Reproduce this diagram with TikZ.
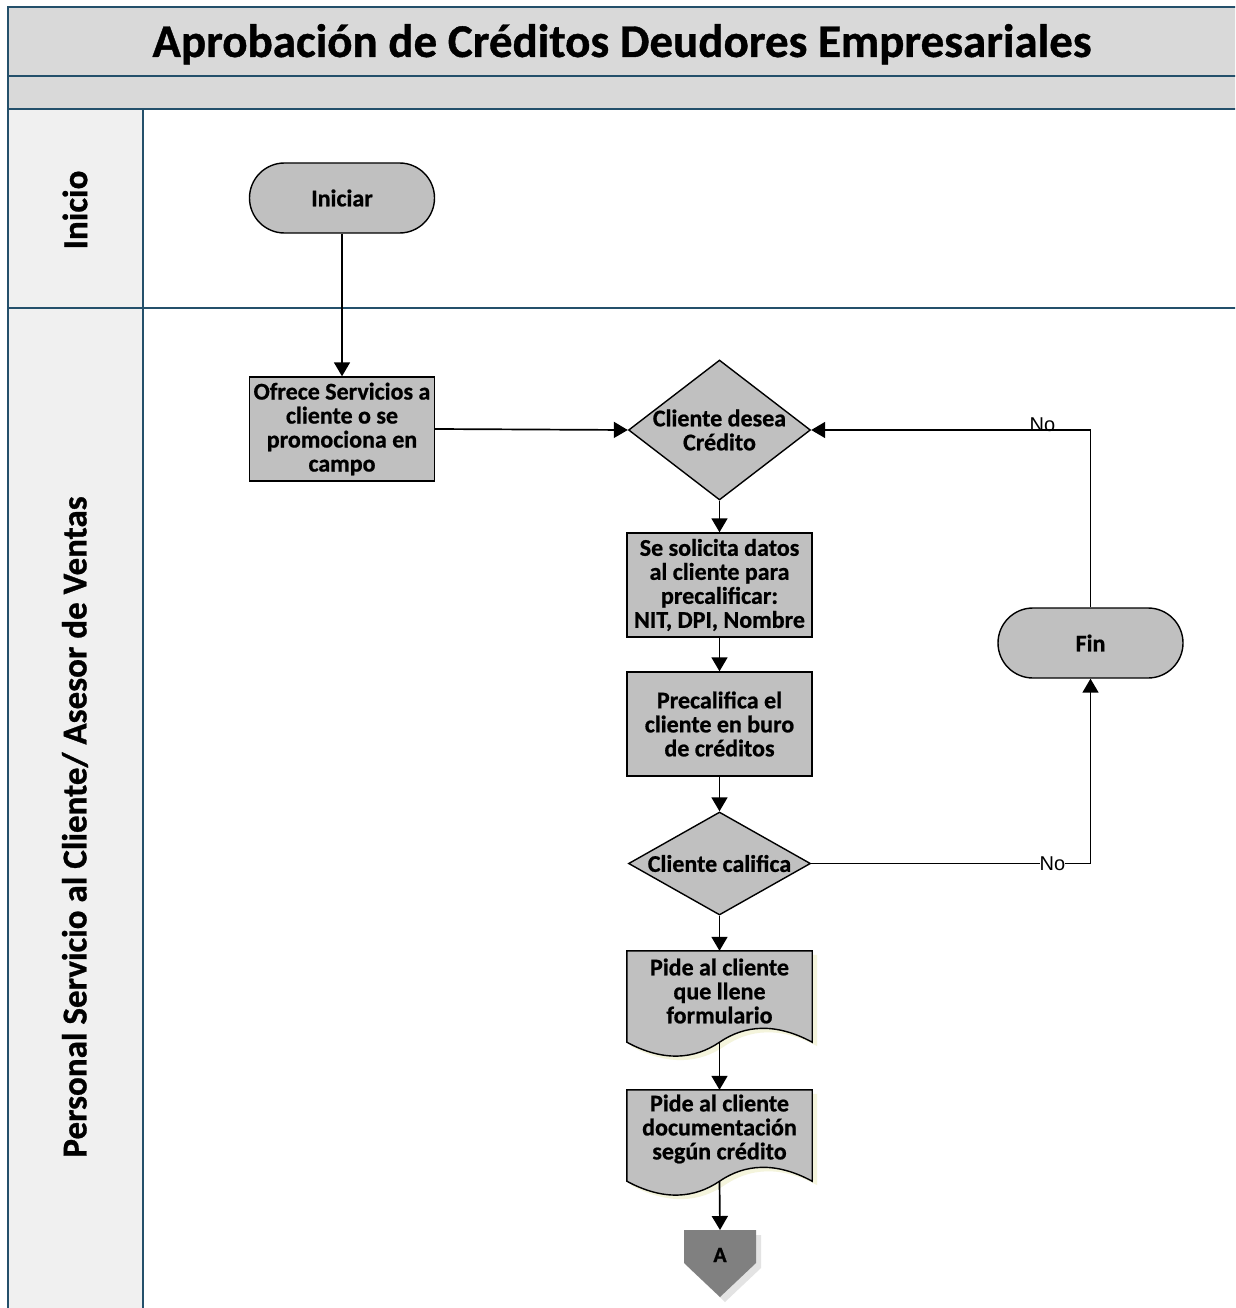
\documentclass[tikz,border=0pt]{standalone}
\usepackage{fontspec}
\setmainfont{Carlito}[BoldFeatures={FakeBold=0.8}]
\newfontfamily\labelfont{Liberation Sans}
\usetikzlibrary{shapes.geometric,shapes.misc,arrows.meta,calc}

\definecolor{bandfill}{HTML}{D9D9D9}
\definecolor{headfill}{HTML}{F0F0F0}
\definecolor{laneline}{HTML}{24506B}
\definecolor{shapefill}{HTML}{C0C0C0}
\definecolor{offfill}{HTML}{808080}
\definecolor{docglow}{HTML}{F4F4DC}

\tikzset{
  boxtext/.style={font=\bfseries\fontsize{24}{24}\selectfont, align=center},
  process/.style={boxtext, draw=black, line width=1.4pt, fill=shapefill,
    rectangle, minimum width=185pt, minimum height=104pt, inner sep=0pt},
  terminal/.style={boxtext, draw=black, line width=1.4pt, fill=shapefill,
    rounded rectangle, minimum width=185pt, minimum height=70pt, inner sep=0pt},
  decision/.style={draw=black, line width=1.4pt, fill=shapefill,
    diamond, inner sep=0pt, minimum width=182pt},
  doctext/.style={rectangle, minimum width=185pt, minimum height=91pt, inner sep=0pt},
  docshape/.style={draw=black, line width=1.4pt, fill=shapefill},
  flow/.style={draw=black, line width=1.7pt, -{Triangle[length=14pt,width=16pt]}},
  nolabel/.style={font=\labelfont\fontsize{20}{20}\selectfont, inner sep=0pt},
  lanelabel/.style={font=\bfseries\fontsize{35}{35}\selectfont, rotate=90},
  laneborder/.style={draw=laneline, line width=2.6pt},
}

% wavy-bottom document outline built on an empty node
\newcommand{\docoutline}[1]{%
  \path[fill=docglow] ($(#1.north west)+(4,4)$) -- ($(#1.north east)+(5,4)$) -- ($(#1.south east)+(5,4)$)
    .. controls ($(#1.south east)+(-32,-16)$) and ($(#1.south)+(30,-13)$) .. ($(#1.south)+(5,4)$)
    .. controls ($(#1.south)+(-20,21)$) and ($(#1.south west)+(42,24)$) .. ($(#1.south west)+(4,4)$) -- cycle;
  \path[docshape] (#1.north west) -- (#1.north east) -- (#1.south east)
    .. controls ($(#1.south east)+(-37,-20)$) and ($(#1.south)+(25,-17)$) .. (#1.south)
    .. controls ($(#1.south)+(-25,17)$) and ($(#1.south west)+(37,20)$) .. (#1.south west) -- cycle;}

\begin{document}
\begin{tikzpicture}[x=1pt,y=-1pt]
\useasboundingbox (0,0) rectangle (1235,1308);
\clip (0,0) rectangle (1235,1308);
\fill[white] (0,0) rectangle (1235,1308);

% pool frame: title band, empty band, lane header column
\fill[bandfill] (8,7) rectangle (1250,109);
\fill[headfill] (8,109) rectangle (143,1320);
\draw[laneborder] (1250,7) -- (8,7) -- (8,1320);
\draw[laneborder] (8,76) -- (1250,76);
\draw[laneborder] (8,109) -- (1250,109);
\draw[laneborder] (8,308) -- (1250,308);
\draw[laneborder] (143,109) -- (143,1320);

\node[font=\bfseries\fontsize{47}{47}\selectfont, anchor=base] (title) at (622,57)
  {Aprobación de Créditos Deudores Empresariales};

\node[lanelabel] (laneA) at (75,210) {Inicio};
\node[lanelabel] (laneB) at (75,827) {Personal Servicio al Cliente/ Asesor de Ventas};

% flow shapes
\node[terminal] (start) at (342,198) {Iniciar};
\node[process] (offer) at (342,429) {Ofrece Servicios a\\cliente o se\\promociona en\\campo};
\node[decision, minimum height=140pt,
      label={[boxtext]center:Cliente desea\\Crédito}] (wants) at (719.5,430) {};
\node[process] (data) at (719.5,585) {Se solicita datos\\al cliente para\\precalificar:\\NIT, DPI, Nombre};
\node[process] (prequal) at (719.5,724) {Precalifica el\\cliente en buro\\de créditos};
\node[decision, minimum height=103pt,
      label={[boxtext]center:Cliente califica}] (qualifies) at (719.5,863.5) {};
\node[terminal] (finish) at (1090.5,643) {Fin};

% document shapes
\node[doctext] (form) at (719.5,996.5) {};
\node[doctext] (docs) at (719.5,1135.5) {};
\docoutline{form}
\docoutline{docs}
\node[boxtext] (formtext) at (719.5,991) {Pide al cliente\\que llene\\formulario};
\node[boxtext] (docstext) at (719.5,1129) {Pide al cliente\\documentación\\según crédito};

% off-page reference
\coordinate (offtop) at (720,1230);
\fill[gray!22] (689,1235) -- (761,1235) -- (761,1268) -- (725,1302) -- (689,1268) -- cycle;
\fill[offfill] (684,1230) -- (756,1230) -- (756,1263) -- (720,1297) -- (684,1263) -- cycle;
\node[font=\bfseries\fontsize{22}{22}\selectfont] (offpage) at (720,1255) {A};

% connectors
\draw[flow] (start.south) -- (offer.north);
\draw[flow] (offer.east) -- (wants.west);
\draw[flow] (wants.south) -- (data.north);
\draw[flow] (data.south) -- (prequal.north);
\draw[flow] (prequal.south) -- (qualifies.north);
\draw[flow] (qualifies.south) -- (form.north);
\draw[flow] (form.south) -- (docs.north);
\draw[flow] (docs.south) -- (offtop);

\draw[flow] (qualifies.east) -- (qualifies.east -| finish.south) -- (finish.south);
\node[nolabel, fill=white] (noB) at (1052.5,863.5) {No};
\draw[flow] (finish.north) -- (finish.north |- wants.east) -- (wants.east);
\node[nolabel, anchor=base] (noA) at (1042.5,431) {No};
\end{tikzpicture}
\end{document}
